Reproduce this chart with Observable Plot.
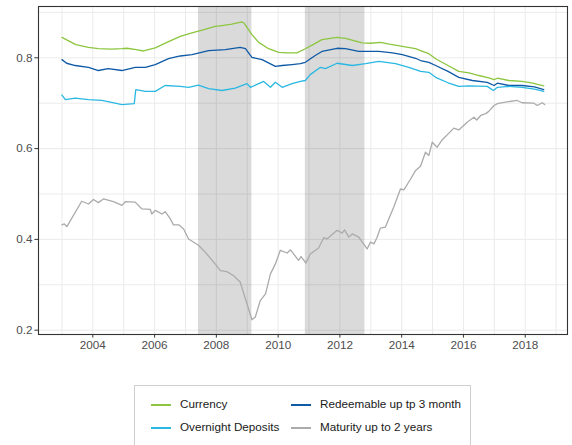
<!DOCTYPE html>
<html>
<head>
<meta charset="utf-8">
<script src="https://cdn.jsdelivr.net/npm/d3@7"></script>
<script src="https://cdn.jsdelivr.net/npm/@observablehq/plot@0.6"></script>
<style>
  body { margin: 0; background: #fff; font-family: "Liberation Sans", Arial, sans-serif; }
  #legend {
    position: absolute; left: 134px; top: 385px; width: 337px; height: 80px;
    border: 1px solid #cfcfcf; box-sizing: border-box; background: #fff;
  }
  .item { position: absolute; font-size: 11.7px; color: #1a1a1a; line-height: 14px; white-space: nowrap; }
  .key { position: absolute; width: 20px; height: 2px; }
</style>
</head>
<body>
<div id="chart"></div>
<div id="legend"></div>
<script>
// ---- data (decimal year, value) ----
const seriesNames = ["Currency", "Redeemable up tp 3 month", "Overnight Deposits", "Maturity up to 2 years"];
const seriesColors = ["#8cc63f", "#0e5aa7", "#2ab8e2", "#ababab"];

const currency = [[2003.0,0.845],[2003.2,0.838],[2003.45,0.829],[2003.86,0.823],[2004.18,0.820],[2004.6,0.819],[2004.94,0.820],[2005.1,0.821],[2005.4,0.818],[2005.64,0.815],[2006.02,0.822],[2006.4,0.834],[2006.83,0.847],[2007.21,0.855],[2007.6,0.862],[2007.96,0.869],[2008.18,0.871],[2008.5,0.874],[2008.83,0.879],[2008.9,0.876],[2009.15,0.851],[2009.37,0.834],[2009.69,0.820],[2010.02,0.812],[2010.3,0.811],[2010.61,0.811],[2010.88,0.820],[2011.1,0.828],[2011.42,0.840],[2011.91,0.845],[2012.18,0.843],[2012.45,0.838],[2012.72,0.833],[2013.0,0.832],[2013.31,0.834],[2013.6,0.830],[2014.02,0.825],[2014.45,0.820],[2014.61,0.816],[2014.88,0.809],[2015.1,0.798],[2015.5,0.783],[2015.85,0.770],[2016.18,0.767],[2016.5,0.761],[2016.82,0.756],[2016.99,0.752],[2017.1,0.755],[2017.47,0.750],[2017.9,0.748],[2018.2,0.745],[2018.6,0.738]];

const redeemable = [[2003.0,0.796],[2003.15,0.788],[2003.43,0.783],[2003.86,0.779],[2004.18,0.772],[2004.5,0.776],[2004.94,0.772],[2005.37,0.779],[2005.7,0.779],[2006.02,0.785],[2006.45,0.798],[2006.83,0.804],[2007.21,0.807],[2007.75,0.816],[2008.29,0.818],[2008.77,0.823],[2008.94,0.820],[2009.15,0.801],[2009.48,0.796],[2009.91,0.781],[2010.13,0.783],[2010.45,0.785],[2010.72,0.787],[2010.88,0.790],[2011.2,0.805],[2011.42,0.814],[2011.91,0.821],[2012.18,0.820],[2012.61,0.814],[2013.26,0.814],[2013.7,0.811],[2014.02,0.807],[2014.45,0.799],[2014.61,0.794],[2014.88,0.790],[2015.1,0.783],[2015.5,0.770],[2015.85,0.757],[2016.29,0.750],[2016.77,0.746],[2016.99,0.739],[2017.1,0.744],[2017.47,0.739],[2017.9,0.739],[2018.3,0.736],[2018.6,0.730]];

const overnight = [[2003.0,0.718],[2003.11,0.708],[2003.43,0.711],[2003.86,0.708],[2004.29,0.706],[2004.72,0.700],[2004.94,0.697],[2005.34,0.699],[2005.39,0.730],[2005.7,0.726],[2006.02,0.726],[2006.34,0.739],[2006.83,0.737],[2007.1,0.735],[2007.42,0.740],[2007.75,0.732],[2008.18,0.728],[2008.61,0.733],[2008.99,0.743],[2009.1,0.735],[2009.37,0.743],[2009.53,0.748],[2009.75,0.735],[2009.91,0.746],[2010.13,0.735],[2010.45,0.743],[2010.72,0.748],[2010.88,0.750],[2011.04,0.763],[2011.37,0.779],[2011.53,0.776],[2011.91,0.788],[2012.4,0.783],[2012.83,0.787],[2013.26,0.792],[2013.8,0.787],[2014.23,0.779],[2014.45,0.774],[2014.61,0.770],[2014.88,0.768],[2015.1,0.757],[2015.5,0.745],[2015.85,0.737],[2016.18,0.738],[2016.77,0.737],[2016.97,0.728],[2017.1,0.735],[2017.47,0.737],[2017.9,0.735],[2018.3,0.731],[2018.6,0.726]];

const maturity = [[2003.0,0.432],[2003.08,0.434],[2003.16,0.428],[2003.64,0.484],[2003.86,0.478],[2004.02,0.488],[2004.18,0.481],[2004.34,0.489],[2004.67,0.483],[2004.94,0.475],[2005.05,0.483],[2005.37,0.482],[2005.59,0.467],[2005.86,0.466],[2005.91,0.456],[2006.02,0.464],[2006.24,0.456],[2006.34,0.461],[2006.51,0.445],[2006.61,0.432],[2006.78,0.432],[2006.94,0.423],[2007.1,0.401],[2007.42,0.387],[2007.64,0.372],[2007.96,0.346],[2008.13,0.331],[2008.34,0.329],[2008.56,0.320],[2008.77,0.306],[2008.94,0.269],[2009.15,0.223],[2009.26,0.229],[2009.42,0.265],[2009.59,0.280],[2009.75,0.324],[2009.91,0.346],[2010.07,0.376],[2010.29,0.370],[2010.4,0.377],[2010.66,0.354],[2010.74,0.362],[2010.9,0.348],[2011.04,0.368],[2011.31,0.381],[2011.48,0.404],[2011.58,0.401],[2011.91,0.420],[2012.07,0.414],[2012.15,0.421],[2012.29,0.405],[2012.4,0.412],[2012.61,0.405],[2012.88,0.379],[2012.99,0.394],[2013.1,0.390],[2013.2,0.404],[2013.31,0.425],[2013.47,0.427],[2013.58,0.445],[2013.74,0.471],[2013.96,0.511],[2014.07,0.509],[2014.29,0.533],[2014.45,0.552],[2014.61,0.561],[2014.77,0.592],[2014.88,0.585],[2014.99,0.614],[2015.15,0.603],[2015.31,0.619],[2015.69,0.645],[2015.85,0.641],[2016.12,0.658],[2016.34,0.669],[2016.43,0.663],[2016.56,0.673],[2016.72,0.677],[2016.82,0.682],[2016.99,0.695],[2017.1,0.699],[2017.31,0.702],[2017.74,0.706],[2017.9,0.701],[2018.28,0.700],[2018.39,0.695],[2018.55,0.701],[2018.63,0.697]];

// shaded periods (decimal years)
const shadeStart = [2007.42, 2010.88];
const shadeEnd   = [2009.15, 2012.81];

const yTicks = [0.2, 0.4, 0.6, 0.8];
const xTickYears = [2004, 2006, 2008, 2010, 2012, 2014, 2016, 2018];

// ---- helpers ----
function dy(t) {
  const y = Math.floor(t);
  const a = Date.UTC(y, 0, 1), b = Date.UTC(y + 1, 0, 1);
  return new Date(a + (t - y) * (b - a));
}
const allSeries = [currency, redeemable, overnight, maturity];
const rows = [];
allSeries.forEach((s, i) => s.forEach(([t, v]) => rows.push({date: dy(t), value: v, series: seriesNames[i]})));
const shades = shadeStart.map((s, i) => ({x1: dy(s), x2: dy(shadeEnd[i])}));
const gridYears = d3.range(2003, 2020).map(y => dy(y));
const gridY = d3.range(0.2, 0.91, 0.1).map(v => +v.toFixed(1));

const chart = Plot.plot({
  width: 572,
  height: 360,
  marginLeft: 38,
  marginRight: 5,
  marginTop: 6,
  marginBottom: 26,
  style: {fontFamily: "Liberation Sans, Arial, sans-serif", fontSize: "11.7px", background: "#fff"},
  x: {type: "utc", domain: [dy(2002.24), dy(2019.37)]},
  y: {domain: [0.1905, 0.913]},
  color: {domain: seriesNames, range: seriesColors},
  marks: [
    Plot.gridX(gridYears, {stroke: "#ebebeb", strokeOpacity: 1, strokeWidth: 1}),
    Plot.gridY(gridY, {stroke: "#ebebeb", strokeOpacity: 1, strokeWidth: 1}),
    Plot.rect(shades, {x1: "x1", x2: "x2", fill: "#000", fillOpacity: 0.145}),
    Plot.line(rows, {x: "date", y: "value", z: "series", stroke: "series", strokeWidth: 1.3, curve: "linear"}),
    Plot.frame({stroke: "#333", strokeWidth: 1.1}),
    Plot.axisY(yTicks, {tickSize: 3.6, tickPadding: 2.5, stroke: "#333", fill: "#4d4d4d", tickFormat: d3.format(".1f"), label: null}),
    Plot.axisX(xTickYears.map(y => dy(y)), {tickSize: 3.6, tickPadding: 3, stroke: "#333", fill: "#4d4d4d", tickFormat: d3.utcFormat("%Y"), label: null})
  ]
});
document.getElementById("chart").appendChild(chart);

// ---- legend ----
const legend = document.getElementById("legend");
const pos = [
  {idx: 0, kx: 16, tx: 45, y: 19},
  {idx: 1, kx: 156, tx: 185, y: 19},
  {idx: 2, kx: 16, tx: 45, y: 41.7},
  {idx: 3, kx: 156, tx: 185, y: 41.7}
];
pos.forEach(p => {
  const k = document.createElement("div");
  k.className = "key";
  k.style.left = p.kx + "px";
  k.style.top = (p.y - 1) + "px";
  k.style.background = seriesColors[p.idx];
  legend.appendChild(k);
  const t = document.createElement("div");
  t.className = "item";
  t.style.left = p.tx + "px";
  t.style.top = (p.y - 8) + "px";
  t.textContent = seriesNames[p.idx];
  legend.appendChild(t);
});
</script>
</body>
</html>
